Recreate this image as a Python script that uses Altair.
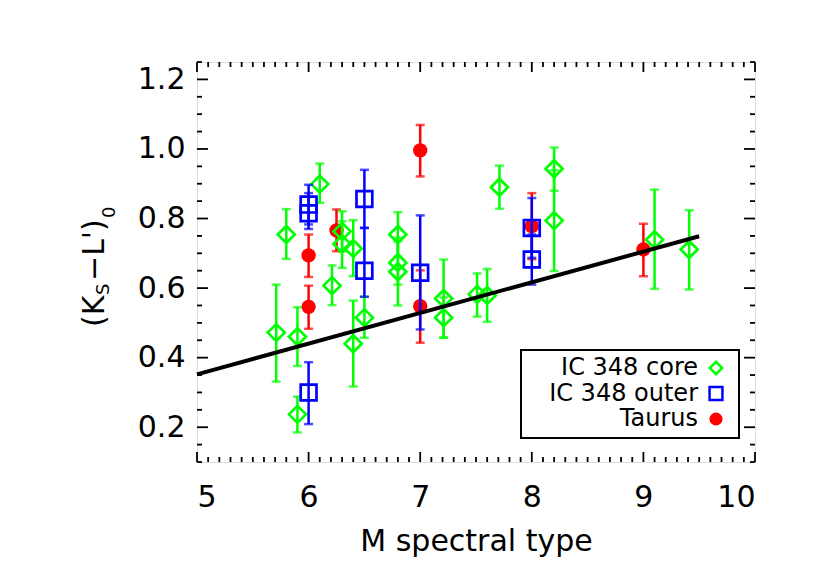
import altair as alt
import pandas as pd

# ---------------- data ----------------
series_names = ["IC 348 core", "IC 348 outer", "Taurus"]

core_x  = [5.71, 5.80, 5.90, 5.90, 6.10, 6.21, 6.30, 6.30, 6.40, 6.40, 6.50, 6.80, 6.80, 6.80,
           7.21, 7.21, 7.51, 7.60, 7.71, 8.20, 8.20, 9.10, 9.41]
core_y  = [0.472, 0.754, 0.460, 0.237, 0.899, 0.607, 0.763, 0.727, 0.714, 0.440, 0.515, 0.754, 0.673, 0.647,
           0.570, 0.515, 0.582, 0.579, 0.890, 0.943, 0.794, 0.739, 0.711]
core_lo = [0.331, 0.684, 0.376, 0.185, 0.845, 0.551, 0.705, 0.658, 0.634, 0.317, 0.457, 0.690, 0.610, 0.550,
           0.458, 0.457, 0.518, 0.503, 0.828, 0.880, 0.649, 0.598, 0.596]
core_hi = [0.610, 0.827, 0.545, 0.288, 0.958, 0.665, 0.821, 0.792, 0.795, 0.564, 0.575, 0.818, 0.735, 0.745,
           0.682, 0.573, 0.642, 0.655, 0.952, 1.004, 0.939, 0.883, 0.824]

outer_x  = [6.0, 6.0, 6.0, 6.5, 6.5, 7.0, 8.0, 8.0]
outer_y  = [0.840, 0.815, 0.300, 0.856, 0.650, 0.644, 0.773, 0.682]
outer_lo = [0.783, 0.770, 0.209, 0.773, 0.575, 0.481, 0.687, 0.610]
outer_hi = [0.897, 0.873, 0.387, 0.940, 0.773, 0.809, 0.859, 0.754]

taurus_x  = [6.0, 6.0, 6.25, 7.0, 7.0, 8.0, 9.0]
taurus_y  = [0.694, 0.546, 0.766, 0.996, 0.548, 0.778, 0.711]
taurus_lo = [0.632, 0.483, 0.706, 0.921, 0.443, 0.683, 0.634]
taurus_hi = [0.754, 0.607, 0.826, 1.069, 0.651, 0.873, 0.785]

fit_x = [5.0, 9.5]
fit_y = [0.352, 0.749]

x_major = [5, 6, 7, 8, 9, 10]
y_major = [0.2, 0.4, 0.6, 0.8, 1.0, 1.2]
x_minor = [round(5 + i * 0.1, 2) for i in range(1, 50) if i % 10 != 0]
y_minor = [round(0.1 + i * 0.05, 2) for i in range(0, 24)]
y_minor = [v for v in y_minor if round(v / 0.2, 6) != round(v / 0.2)]

# ---------------- styling ----------------
W, H = 558, 400
FONT = "DejaVu Sans"
GREEN, BLUE, RED = "#00ff00", "#0000ff", "#ff0000"

xs = alt.Scale(domain=[5, 10], nice=False, zero=False)
ys = alt.Scale(domain=[0.1, 1.25], nice=False, zero=False)

xaxis = alt.Axis(values=x_major, format="d", domain=False, ticks=False, grid=False,
                 labelFont=FONT, labelFontSize=30, labelColor="black", labelPadding=20,
                 title="M spectral type", titleFont=FONT, titleFontSize=30,
                 titleFontWeight="normal", titleColor="black", titlePadding=14)
yaxis = alt.Axis(values=y_major, format=".1f", domain=False, ticks=False, grid=False,
                 labelFont=FONT, labelFontSize=30, labelColor="black", labelPadding=12,
                 title=None)


def X():
    return alt.X("x:Q", scale=xs, axis=xaxis)


def Y():
    return alt.Y("y:Q", scale=ys, axis=yaxis)


def series_layers(xv, yv, lo, hi, color, shape, filled, size):
    df = pd.DataFrame({"x": xv, "y": yv, "lo": lo, "hi": hi})
    base = alt.Chart(df)
    bars = base.mark_rule(color=color, strokeWidth=2.5).encode(
        x=X(), y=alt.Y("lo:Q", scale=ys, axis=yaxis), y2="hi:Q")
    cap_lo = base.mark_tick(color=color, orient="horizontal", size=9, thickness=2.5).encode(
        x=X(), y=alt.Y("lo:Q", scale=ys, axis=yaxis))
    cap_hi = base.mark_tick(color=color, orient="horizontal", size=9, thickness=2.5).encode(
        x=X(), y=alt.Y("hi:Q", scale=ys, axis=yaxis))
    if filled:
        pts = base.mark_point(shape=shape, filled=True, color=color, size=size, opacity=1).encode(x=X(), y=Y())
    else:
        pts = base.mark_point(shape=shape, filled=False, color=color, strokeWidth=2.7,
                              size=size, opacity=1).encode(x=X(), y=Y())
    return [bars, cap_lo, cap_hi, pts]


layers = []
layers += series_layers(taurus_x, taurus_y, taurus_lo, taurus_hi, RED, "circle", True, 205)
layers += series_layers(core_x, core_y, core_lo, core_hi, GREEN, "diamond", False, 290)
layers += series_layers(outer_x, outer_y, outer_lo, outer_hi, BLUE, "square", False, 250)

fit_df = pd.DataFrame({"x": fit_x, "y": fit_y})
layers.append(alt.Chart(fit_df).mark_line(color="black", strokeWidth=4).encode(x=X(), y=Y()))

# ---------------- inward axis ticks (all four sides) ----------------
xmaj = pd.DataFrame({"x": x_major})
xmin = pd.DataFrame({"x": x_minor})
ymaj = pd.DataFrame({"y": y_major})
ymin = pd.DataFrame({"y": y_minor})
tick_style = dict(color="black", strokeWidth=1.8)
for d, L in [(xmaj, 10), (xmin, 5)]:
    layers.append(alt.Chart(d).mark_rule(**tick_style).encode(x=X(), y=alt.value(H), y2=alt.value(H - L)))
    layers.append(alt.Chart(d).mark_rule(**tick_style).encode(x=X(), y=alt.value(0), y2=alt.value(L)))
for d, L in [(ymaj, 11), (ymin, 5)]:
    layers.append(alt.Chart(d).mark_rule(**tick_style).encode(y=Y(), x=alt.value(0), x2=alt.value(L)))
    layers.append(alt.Chart(d).mark_rule(**tick_style).encode(y=Y(), x=alt.value(W), x2=alt.value(W - L)))

# ---------------- y title (K_S - L')_0 built from pieces ----------------
one = pd.DataFrame({"k": [0]})
ytitle_parts = [("(K", 30, -93, 265), ("S", 18, -88, 233), ("\u2212L')", 30, -93, 219), ("0", 18, -82, 156)]
for txt, fs, px, py in ytitle_parts:
    layers.append(alt.Chart(one).mark_text(text=txt, font=FONT, fontSize=fs, angle=270, align="left",
                                           baseline="alphabetic", color="black")
                  .encode(x=alt.value(px), y=alt.value(py)))

# ---------------- legend ----------------
layers.append(alt.Chart(one).mark_rect(fill="white", stroke="black", strokeWidth=2).encode(
    x=alt.value(324), x2=alt.value(542), y=alt.value(288), y2=alt.value(376)))
leg_style = [(GREEN, "diamond", False, 150), (BLUE, "square", False, 165), (RED, "circle", True, 170)]
for i, (name, (col, shp, fil, sz)) in enumerate(zip(series_names, leg_style)):
    base_y = 313 + i * 25.5
    layers.append(alt.Chart(one).mark_text(text=name, font=FONT, fontSize=24, align="right",
                                           baseline="alphabetic", color="black")
                  .encode(x=alt.value(501), y=alt.value(base_y)))
    if fil:
        m = alt.Chart(one).mark_point(shape=shp, filled=True, color=col, size=sz, opacity=1)
    else:
        m = alt.Chart(one).mark_point(shape=shp, filled=False, color=col, strokeWidth=2.5, size=sz, opacity=1)
    layers.append(m.encode(x=alt.value(519), y=alt.value(base_y - 7)))

chart = alt.layer(*layers).properties(
    width=W, height=H,
    autosize=alt.AutoSizeParams(type="none"),
    padding={"left": 189, "top": 54, "right": 40, "bottom": 110},
).configure_view(stroke="black", strokeWidth=2).configure(background="white")

chart.save("out.html", embed_options={"renderer": "svg", "actions": False})
